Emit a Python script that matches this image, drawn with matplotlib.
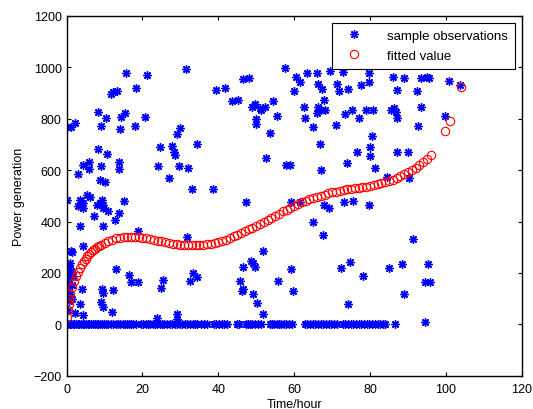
import numpy as np
import matplotlib
matplotlib.use('Agg')
import matplotlib.pyplot as plt

plt.rcParams['font.family'] = ['Liberation Sans', 'DejaVu Sans']

# sample observations above zero (hour, power)
obs_hours = [15.6, 21.3, 18.4, 11.7, 12.2, 13.4, 8.4, 10.4, 14.3, 15.4, 20.6, 2.2, 0.0, 1.2,
             9.0, 14.2, 17.9, 29.2, 30.0, 24.7, 27.8, 28.2, 28.6, 8.4, 10.6, 6.0, 4.3, 9.0,
             13.9, 6.0, 3.1, 13.7, 24.2, 29.5, 26.9, 8.7, 10.0,
             0.2, 3.6, 4.3, 5.3, 6.2, 4.4, 3.1, 9.3, 8.7, 8.1, 9.7, 9.6, 11.0, 7.1, 15.0,
             13.7, 12.8, 3.6, 9.7, 18.9, 4.4, 1.2, 13.1, 16.5, 17.0, 18.9, 25.5, 24.9, 4.0,
             9.3, 9.7, 12.2, 9.0, 9.7, 11.9, 3.6, 2.2, 4.3, 23.8, 29.2, 29.1, 1.4,
             0.2, 0.5, 0.9, 1.1, 0.3, 0.7, 0.2, 1.3, 0.4, 0.9, 0.1, 0.5, 1.6, 1.4, 0.3,
             31.4, 57.7, 60.4, 46.4, 48.0, 39.4, 41.8, 43.7, 45.2, 49.6, 48.9, 51.1, 52.2,
             51.3, 54.3, 55.5, 49.9, 49.9, 53.5, 34.4, 32.1, 52.6, 57.9, 33.0, 38.6,
             47.4, 59.2, 31.7, 51.7, 48.7, 49.1, 46.6, 49.7, 59.1, 33.3, 32.4, 34.4, 45.8,
             46.2, 46.6, 55.7, 49.1, 50.2, 59.6, 51.9, 74.1,
             61.6, 63.5, 66.0, 66.4, 67.3, 69.5, 72.9, 71.3, 71.7, 74.3, 77.7, 79.6, 79.6,
             86.1, 88.9, 87.1, 59.9, 67.8, 66.4, 67.1, 68.2, 62.5, 66.0, 62.9, 65.0, 71.1,
             73.5, 75.3, 79.0, 80.8, 77.0, 85.4, 86.4, 86.9, 87.1, 80.5, 80.1, 80.1, 66.9,
             76.6, 73.9, 67.1, 81.4, 84.5, 87.1, 89.9, 59.0,
             61.6, 67.8, 69.3, 73.0, 75.4, 79.6, 65.0, 67.6, 72.3, 74.6, 78.2, 84.9, 88.4,
             89.0,
             93.3, 95.0, 95.5, 100.7, 103.8, 92.4, 93.3, 99.7, 92.7, 90.2,
             91.2, 95.3, 94.6, 95.9, 94.6]
obs_power = [978, 968, 921, 897, 902, 908, 824, 802, 808, 822, 808, 785, 767, 767,
             770, 761, 770, 739, 765, 688, 692, 672, 659, 681, 663, 633, 621, 614,
             633, 604, 586, 605, 614, 614, 569, 560, 554,
             482, 484, 472, 504, 495, 452, 459, 482, 471, 466, 466, 452, 439, 421, 481,
             434, 407, 381, 381, 365, 304, 284, 214, 192, 166, 166, 174, 142, 136,
             139, 122, 134, 86, 66, 48, 79, 44, 36, 24, 42, 22, 281,
             236, 224, 240, 206, 192, 178, 162, 152, 134, 118, 102, 89, 190, 98, 54,
             994, 998, 963, 955, 959, 913, 918, 867, 873, 858, 845, 841, 845,
             832, 870, 811, 798, 779, 743, 703, 608, 647, 618, 527, 527,
             475, 475, 340, 284, 246, 237, 224, 224, 216, 200, 167, 185, 169,
             130, 137, 169, 119, 85, 131, 42, 80,
             944, 979, 979, 935, 917, 985, 983, 935, 908, 917, 931, 976, 944,
             963, 957, 911, 909, 872, 846, 833, 833, 844, 821, 801, 766, 775,
             818, 833, 833, 833, 801, 833, 840, 827, 801, 733, 691, 655, 702,
             672, 627, 599, 608, 573, 672, 672, 621,
             475, 466, 453, 475, 478, 466, 400, 346, 218, 244, 189, 218, 234,
             120,
             958, 962, 958, 945, 932, 909, 847, 812, 770, 570,
             333, 234, 165, 165, 8]

# sample observations at zero output
zero_hours = [0, 0.4, 0.8, 1.2, 1.6, 2.0, 2.5, 2.9, 3.3, 3.8, 4.2, 4.7, 5.1, 5.6, 6.0,
              6.5, 7.0, 7.4, 7.9, 8.4, 8.8, 9.4, 9.9, 10.5, 11.0, 11.6, 12.3, 12.9, 13.5,
              14.2, 14.8, 15.4, 15.9, 16.4, 17.0, 17.6, 18.3, 19.5, 20.1, 20.8, 21.4,
              22.0, 22.7, 23.3, 23.9, 24.5, 25.2, 25.8, 26.5, 27.2, 27.9, 28.6, 29.2,
              29.8, 30.5, 31.1, 31.8, 32.5, 33.2, 33.9, 34.5, 35.4, 36.1, 36.9, 38.8,
              39.5, 40.2, 40.9, 41.6, 42.2, 44.8, 45.4, 47.2, 47.8, 48.4, 49.0, 49.6,
              50.5, 51.3, 53.5, 54.1, 54.8, 55.4, 56.0, 56.6, 57.3, 57.9, 58.6, 59.3,
              62.8, 63.5, 64.2, 64.9, 65.6, 66.3, 67.0, 67.7, 68.4, 69.1, 69.8, 70.5,
              71.3, 72.9, 73.5, 74.2, 74.9, 75.6, 76.3, 77.0, 77.7, 78.4, 79.1, 79.8,
              80.6, 81.3, 82.0, 82.7, 83.4, 84.0, 86.5]
zero_power = [0] * len(zero_hours)

# fitted values
fit_hours = [0, 0.25, 0.5, 0.75, 1, 1.5, 2, 2.5, 3, 3.5, 4, 4.5, 5, 5.5, 6, 6.5, 7, 7.5,
             8, 8.5, 9, 10, 11, 12, 13, 14, 15, 16, 17, 18, 19, 20, 21, 22, 23, 24, 25,
             26, 27, 28, 29, 30, 31, 32, 33, 34, 35, 36, 37, 38, 39, 40, 41, 42, 43, 44,
             45, 46, 47, 48, 49, 50, 51, 52, 53, 54, 55, 56, 57, 58, 59, 60, 61, 62, 63,
             64, 65, 66, 67, 68, 69, 70, 71, 72, 73, 74, 75, 76, 77, 78, 79, 80, 81, 82,
             83, 84, 85, 86, 87, 88, 89, 90, 91, 92, 93, 94, 95, 96,
             99.7, 101.0, 104.1]
fit_power = [30, 55, 80, 100, 118, 145, 168, 188, 205, 220, 233, 245, 255, 265, 273, 281,
             288, 294, 300, 305, 310, 318, 325, 330, 334, 337, 339, 340, 340, 340, 339,
             337, 335, 332, 329, 326, 323, 320, 317, 314, 312, 310, 309, 308, 307, 307,
             308, 309, 311, 314, 317, 321, 325, 330, 336, 342, 348, 355, 362, 369, 376,
             383, 391, 399, 407, 415, 423, 431, 439, 446, 454, 461, 467, 474, 480, 486,
             491, 496, 501, 505, 509, 513, 516, 519, 522, 525, 527, 529, 531, 534, 536,
             539, 542, 545, 549, 553, 558, 563, 569, 576, 583, 591, 600, 610, 620, 632,
             645, 658,
             752, 792, 922]

fig = plt.figure(figsize=(5.33, 4.10), dpi=100)
ax = fig.add_axes([0.125, 0.081, 0.854, 0.878])

star = (8, 2, 0)
ax.plot(obs_hours + zero_hours, obs_power + zero_power, linestyle='none', marker=star,
        markersize=6, markeredgewidth=1.0, color='blue', label='sample observations')
ax.plot(fit_hours, fit_power, linestyle='none', marker='o', markersize=6,
        markerfacecolor='none', markeredgecolor='red', markeredgewidth=0.8,
        label='fitted value')

ax.set_xlim(0, 120)
ax.set_ylim(-200, 1200)
ax.set_xticks(range(0, 121, 20))
ax.set_yticks(range(-200, 1201, 200))
ax.tick_params(direction='in', top=True, right=True, labelsize=9, length=3, width=0.8)
ax.tick_params(axis='x', pad=5)
for s in ax.spines.values():
    s.set_linewidth(1.0)

ax.set_xlabel('Time/hour', fontsize=9, labelpad=2)
ax.set_ylabel('Power generation', fontsize=9, labelpad=6)

leg = ax.legend(loc='upper right', fontsize=9.5, fancybox=False, edgecolor='black',
                framealpha=1, borderaxespad=0.55, handletextpad=1.3, borderpad=0.5,
                labelspacing=0.6, handlelength=2.4)
leg.get_frame().set_linewidth(0.8)

fig.savefig('out.png', dpi=100)
